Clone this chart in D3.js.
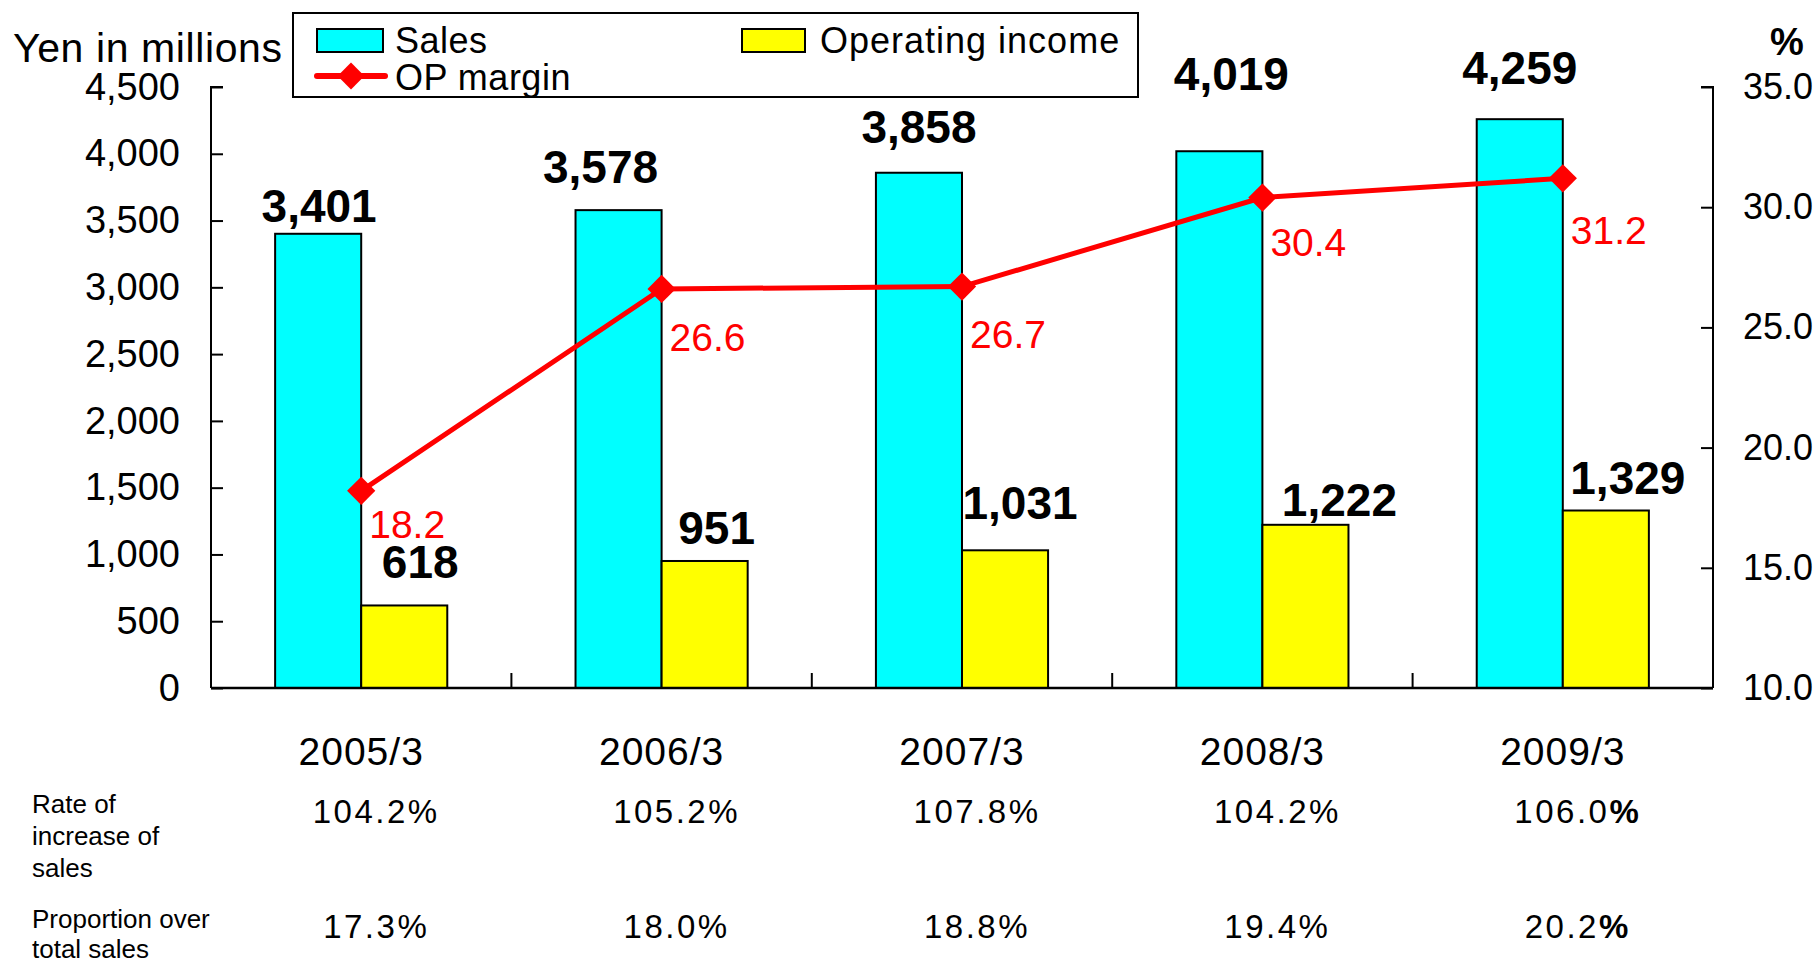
<!DOCTYPE html>
<html>
<head>
<meta charset="utf-8">
<script src="https://cdn.jsdelivr.net/npm/d3@7"></script>
<style>
  html, body { margin: 0; padding: 0; background: #fff; }
  svg { display: block; font-family: "Liberation Sans", Arial, sans-serif; }
</style>
</head>
<body>
<script>
// data
var categories = ["2005/3", "2006/3", "2007/3", "2008/3", "2009/3"];
var sales = [3401, 3578, 3858, 4019, 4259];
var opIncome = [618, 951, 1031, 1222, 1329];
var opMargin = [18.2, 26.6, 26.7, 30.4, 31.2];
var salesGrowth = [104.2, 105.2, 107.8, 104.2, 106.0];
var salesShare = [17.3, 18.0, 18.8, 19.4, 20.2];
var leftTicks = [0, 500, 1000, 1500, 2000, 2500, 3000, 3500, 4000, 4500];
var rightTicks = [10, 15, 20, 25, 30, 35];

// hand placed label nudges (pixels) as in the original
var salesNudge = [[1, -12], [-18, -27], [0, -30], [12, -61], [0, -35]];
var opNudge = [[16, -27], [12, -17], [15, -31], [34, -9], [22, -17]];
var marginDy = [47, 62, 61, 58, 66];

var W = 1820, H = 960;
var plotLeft = 211, plotRight = 1713, plotTop = 87, plotBottom = 688;

var svg = d3.select("body").append("svg").attr("width", W).attr("height", H);

var x = d3.scaleBand().domain(categories).range([plotLeft, plotRight]);
var xs = d3.scaleBand().domain(["sales", "op"]).range([0, x.bandwidth()]).paddingOuter(0.745);
var y = d3.scaleLinear().domain([0, 4500]).range([plotBottom, plotTop]);
var y2 = d3.scaleLinear().domain([10, 35]).range([plotBottom, plotTop]);

// bars
var g = svg.append("g");
categories.forEach(function(c, i) {
  g.append("rect")
    .attr("x", x(c) + xs("sales")).attr("y", y(sales[i]))
    .attr("width", xs.bandwidth()).attr("height", plotBottom - y(sales[i]))
    .attr("fill", "#00ffff").attr("stroke", "#000").attr("stroke-width", 2);
  g.append("rect")
    .attr("x", x(c) + xs("op")).attr("y", y(opIncome[i]))
    .attr("width", xs.bandwidth()).attr("height", plotBottom - y(opIncome[i]))
    .attr("fill", "#ffff00").attr("stroke", "#000").attr("stroke-width", 2);
});

// axes
var yAxis = d3.axisLeft(y).tickValues(leftTicks).tickSize(-12).tickPadding(31)
  .tickFormat(d3.format(","));
var gy = svg.append("g").attr("transform", "translate(" + plotLeft + ",0)").call(yAxis);
gy.select(".domain").attr("d", "M12," + plotTop + "H0V" + plotBottom);

var yAxis2 = d3.axisRight(y2).tickValues(rightTicks).tickSize(-12).tickPadding(30)
  .tickFormat(d3.format(".1f"));
var gy2 = svg.append("g").attr("transform", "translate(" + plotRight + ",0)").call(yAxis2);
gy2.select(".domain").attr("d", "M-12," + plotTop + "H0V" + plotBottom);

[gy, gy2].forEach(function(a) {
  a.selectAll("path, line").attr("stroke", "#000").attr("stroke-width", 2);
  a.selectAll("text").attr("font-size", 38).attr("fill", "#000")
    .attr("font-family", "'Liberation Sans', Arial, sans-serif");
});
gy2.selectAll("text").attr("font-size", 36);

// x baseline with separators between categories
svg.append("line").attr("x1", plotLeft).attr("x2", plotRight).attr("y1", plotBottom).attr("y2", plotBottom)
  .attr("stroke", "#000").attr("stroke-width", 2.5);
svg.selectAll(".sep").data(categories.slice(1)).enter().append("line")
  .attr("x1", function(d) { return x(d); }).attr("x2", function(d) { return x(d); })
  .attr("y1", plotBottom).attr("y2", plotBottom - 15)
  .attr("stroke", "#000").attr("stroke-width", 2);

var cx = function(i) { return x(categories[i]) + x.bandwidth() / 2; };

// category labels
svg.selectAll(".cat").data(categories).enter().append("text")
  .attr("x", function(d, i) { return cx(i); }).attr("y", 765)
  .attr("text-anchor", "middle").attr("font-size", 39).attr("letter-spacing", 1)
  .text(function(d) { return d; });

// op margin line
var line = d3.line().x(function(d, i) { return cx(i); }).y(function(d) { return y2(d); });
svg.append("path").datum(opMargin).attr("d", line)
  .attr("fill", "none").attr("stroke", "#ff0000").attr("stroke-width", 5);
svg.selectAll(".mk").data(opMargin).enter().append("path")
  .attr("d", d3.symbol(d3.symbolSquare, 400))
  .attr("transform", function(d, i) { return "translate(" + cx(i) + "," + y2(d) + ") rotate(45)"; })
  .attr("fill", "#ff0000");
svg.selectAll(".ml").data(opMargin).enter().append("text")
  .attr("x", function(d, i) { return cx(i) + 8; })
  .attr("y", function(d, i) { return y2(d) + marginDy[i]; })
  .attr("font-size", 39).attr("fill", "#ff0000")
  .text(function(d) { return d.toFixed(1); });

// value labels
var fmt = d3.format(",");
svg.selectAll(".sl").data(sales).enter().append("text")
  .attr("x", function(d, i) { return x(categories[i]) + xs("sales") + xs.bandwidth() / 2 + salesNudge[i][0]; })
  .attr("y", function(d, i) { return y(d) + salesNudge[i][1]; })
  .attr("text-anchor", "middle").attr("font-size", 46).attr("font-weight", "bold")
  .text(function(d) { return fmt(d); });
svg.selectAll(".ol").data(opIncome).enter().append("text")
  .attr("x", function(d, i) { return x(categories[i]) + xs("op") + xs.bandwidth() / 2 + opNudge[i][0]; })
  .attr("y", function(d, i) { return y(d) + opNudge[i][1]; })
  .attr("text-anchor", "middle").attr("font-size", 46).attr("font-weight", "bold")
  .text(function(d) { return fmt(d); });

// axis titles
svg.append("text").attr("x", 13).attr("y", 62).attr("font-size", 41).attr("letter-spacing", 0.6)
  .text("Yen in millions");
svg.append("text").attr("x", 1787).attr("y", 55).attr("text-anchor", "middle")
  .attr("font-size", 38).attr("font-weight", "bold").text("%");

// legend
var lg = svg.append("g");
lg.append("rect").attr("x", 293).attr("y", 13).attr("width", 845).attr("height", 84)
  .attr("fill", "#fff").attr("stroke", "#000").attr("stroke-width", 2);
lg.append("rect").attr("x", 317).attr("y", 29).attr("width", 66).attr("height", 23)
  .attr("fill", "#00ffff").attr("stroke", "#000").attr("stroke-width", 2);
lg.append("text").attr("x", 395).attr("y", 53).attr("font-size", 36).attr("letter-spacing", 0.5).text("Sales");
lg.append("rect").attr("x", 742).attr("y", 29).attr("width", 63).attr("height", 23)
  .attr("fill", "#ffff00").attr("stroke", "#000").attr("stroke-width", 2);
lg.append("text").attr("x", 820).attr("y", 53).attr("font-size", 36).attr("letter-spacing", 1).text("Operating income");
lg.append("line").attr("x1", 317).attr("x2", 385).attr("y1", 76).attr("y2", 76)
  .attr("stroke", "#ff0000").attr("stroke-width", 6).attr("stroke-linecap", "round");
lg.append("path").attr("d", d3.symbol(d3.symbolSquare, 360))
  .attr("transform", "translate(351,76) rotate(45)").attr("fill", "#ff0000");
lg.append("text").attr("x", 395).attr("y", 90).attr("font-size", 36).attr("letter-spacing", 0.5).text("OP margin");

// table rows under the chart
function row(values, yPos) {
  var t = svg.selectAll(null).data(values).enter().append("text")
    .attr("x", function(d, i) { return cx(i) + 15; }).attr("y", yPos)
    .attr("text-anchor", "middle").attr("font-size", 33).attr("letter-spacing", 2.5);
  t.append("tspan").text(function(d) { return d.toFixed(1); });
  t.append("tspan").attr("font-weight", function(d, i) { return i === values.length - 1 ? "bold" : null; })
    .text("%");
}
row(salesGrowth, 823);
row(salesShare, 938);

var rl = svg.append("g").attr("font-size", 26);
[["Rate of", 813], ["increase of", 845], ["sales", 877], ["Proportion over", 928], ["total sales", 958]]
  .forEach(function(r) { rl.append("text").attr("x", 32).attr("y", r[1]).text(r[0]); });
</script>
</body>
</html>
